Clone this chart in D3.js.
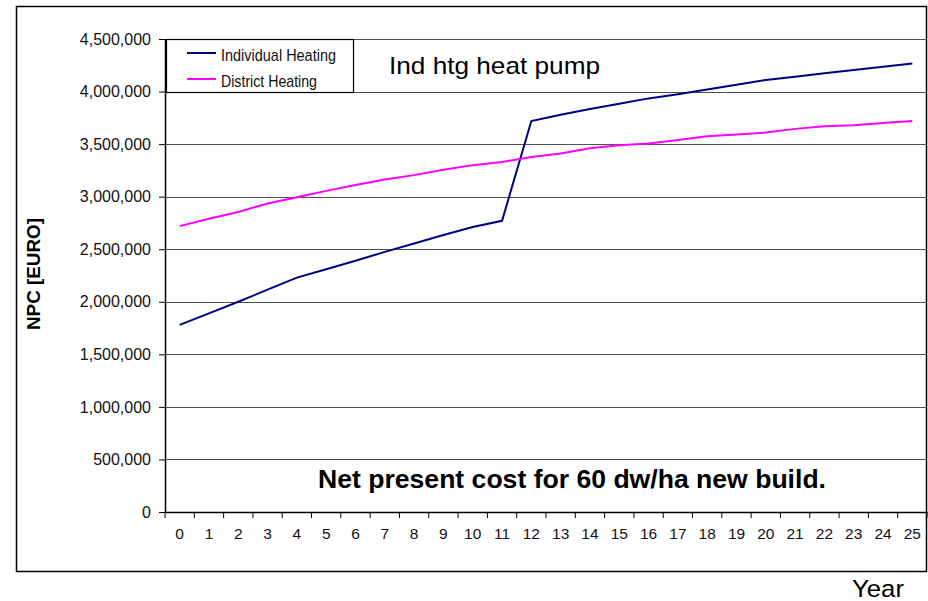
<!DOCTYPE html>
<html>
<head>
<meta charset="utf-8">
<script src="https://cdn.jsdelivr.net/npm/d3@7"></script>
<style>
  body { margin: 0; background: white; }
  svg { display: block; }
</style>
</head>
<body>
<script>
const years = d3.range(0, 26);
const individualHeating = [1780000, 1890000, 2000000, 2115000, 2230000, 2310000, 2390000, 2475000,
  2555000, 2635000, 2712000, 2770000, 3720000, 3780000, 3835000, 3885000, 3935000, 3975000,
  4020000, 4065000, 4110000, 4140000, 4175000, 4205000, 4235000, 4268000];
const districtHeating = [2720000, 2790000, 2855000, 2935000, 2995000, 3055000, 3110000, 3163000,
  3205000, 3257000, 3300000, 3330000, 3378000, 3410000, 3460000, 3490000, 3505000, 3540000,
  3574000, 3592000, 3610000, 3645000, 3669000, 3680000, 3700000, 3720000];
const yTicks = d3.range(0, 4500001, 500000);
const seriesNames = ["Individual Heating", "District Heating"];
const seriesColors = ["#000080", "#ff00ff"];

const width = 928;
const height = 601;
const plot = {left: 165, right: 927, top: 39, bottom: 512};
const font = "'Liberation Sans', Arial, sans-serif";

const svg = d3.create("svg")
  .attr("width", width)
  .attr("height", height)
  .attr("font-family", font);

svg.append("rect")
  .attr("x", 16.5).attr("y", 6.5)
  .attr("width", 910).attr("height", 565)
  .attr("fill", "white")
  .attr("stroke", "black")
  .attr("stroke-width", 1.5);

const x = d3.scaleBand().domain(years).range([plot.left, plot.right]).padding(0);
const y = d3.scaleLinear().domain([0, 4500000]).range([plot.bottom, plot.top]);
const cx = d => x(d) + x.bandwidth() / 2;

// horizontal gridlines
svg.append("g")
  .selectAll("line")
  .data(yTicks.filter(d => d > 0))
  .join("line")
  .attr("x1", plot.left).attr("x2", plot.right)
  .attr("y1", d => Math.round(y(d)) + 0.5).attr("y2", d => Math.round(y(d)) + 0.5)
  .attr("stroke", "#505050")
  .attr("stroke-width", 1.2);

// y axis
const yAxis = svg.append("g")
  .attr("transform", `translate(${plot.left},0)`)
  .call(d3.axisLeft(y).tickValues(yTicks).tickFormat(d3.format(",")).tickSize(6).tickSizeOuter(0).tickPadding(8));
yAxis.select(".domain").attr("stroke", "black").attr("stroke-width", 1.5);
yAxis.selectAll("text").attr("font-size", 16).attr("font-family", font).attr("fill", "#111");

// x axis: labels centered in categories, ticks on the boundaries
const xAxis = svg.append("g")
  .attr("transform", `translate(0,${plot.bottom})`)
  .call(d3.axisBottom(x).tickSize(0).tickPadding(16).tickSizeOuter(0));
xAxis.select(".domain").attr("stroke", "black").attr("stroke-width", 1.5);
xAxis.selectAll("text").attr("font-size", 15.5).attr("font-family", font).attr("fill", "#111");
xAxis.selectAll(".boundary")
  .data(years.map(d => x(d)).concat([plot.right]))
  .join("line")
  .attr("class", "boundary")
  .attr("x1", d => d).attr("x2", d => d)
  .attr("y1", 0).attr("y2", 6)
  .attr("stroke", "black");

// lines
const line = d3.line().x((d, i) => cx(years[i])).y(d => y(d));
[individualHeating, districtHeating].forEach((values, i) => {
  svg.append("path")
    .datum(values)
    .attr("d", line)
    .attr("fill", "none")
    .attr("stroke", seriesColors[i])
    .attr("stroke-width", 2);
});

// legend
const legend = svg.append("g");
legend.append("rect")
  .attr("x", 166.5).attr("y", 39.5)
  .attr("width", 187).attr("height", 53)
  .attr("fill", "white")
  .attr("stroke", "black")
  .attr("stroke-width", 1.2);
seriesNames.forEach((name, i) => {
  const ly = 53 + i * 26;
  legend.append("line")
    .attr("x1", 187).attr("x2", 216)
    .attr("y1", ly).attr("y2", ly)
    .attr("stroke", seriesColors[i])
    .attr("stroke-width", 2);
  legend.append("text")
    .attr("x", 221).attr("y", ly + 8)
    .attr("font-size", 17)
    .attr("font-family", "'Liberation Sans Narrow', 'Arial Narrow', " + font)
    .attr("textLength", i === 0 ? 115 : 96)
    .attr("lengthAdjust", "spacingAndGlyphs")
    .attr("fill", "#111")
    .text(name);
});

// annotations
svg.append("text")
  .attr("x", 389).attr("y", 74)
  .attr("font-size", 24)
  .attr("textLength", 211)
  .attr("lengthAdjust", "spacingAndGlyphs")
  .text("Ind htg heat pump");

svg.append("text")
  .attr("x", 318).attr("y", 488)
  .attr("font-size", 25)
  .attr("font-weight", "bold")
  .attr("textLength", 508)
  .attr("lengthAdjust", "spacingAndGlyphs")
  .text("Net present cost for 60 dw/ha new build.");

svg.append("text")
  .attr("transform", "translate(40,274) rotate(-90)")
  .attr("text-anchor", "middle")
  .attr("font-size", 18)
  .attr("font-weight", "bold")
  .attr("textLength", 112)
  .attr("lengthAdjust", "spacingAndGlyphs")
  .text("NPC [EURO]");

svg.append("text")
  .attr("x", 852).attr("y", 597)
  .attr("font-size", 24)
  .attr("textLength", 52)
  .attr("lengthAdjust", "spacingAndGlyphs")
  .text("Year");

document.body.append(svg.node());
</script>
</body>
</html>
